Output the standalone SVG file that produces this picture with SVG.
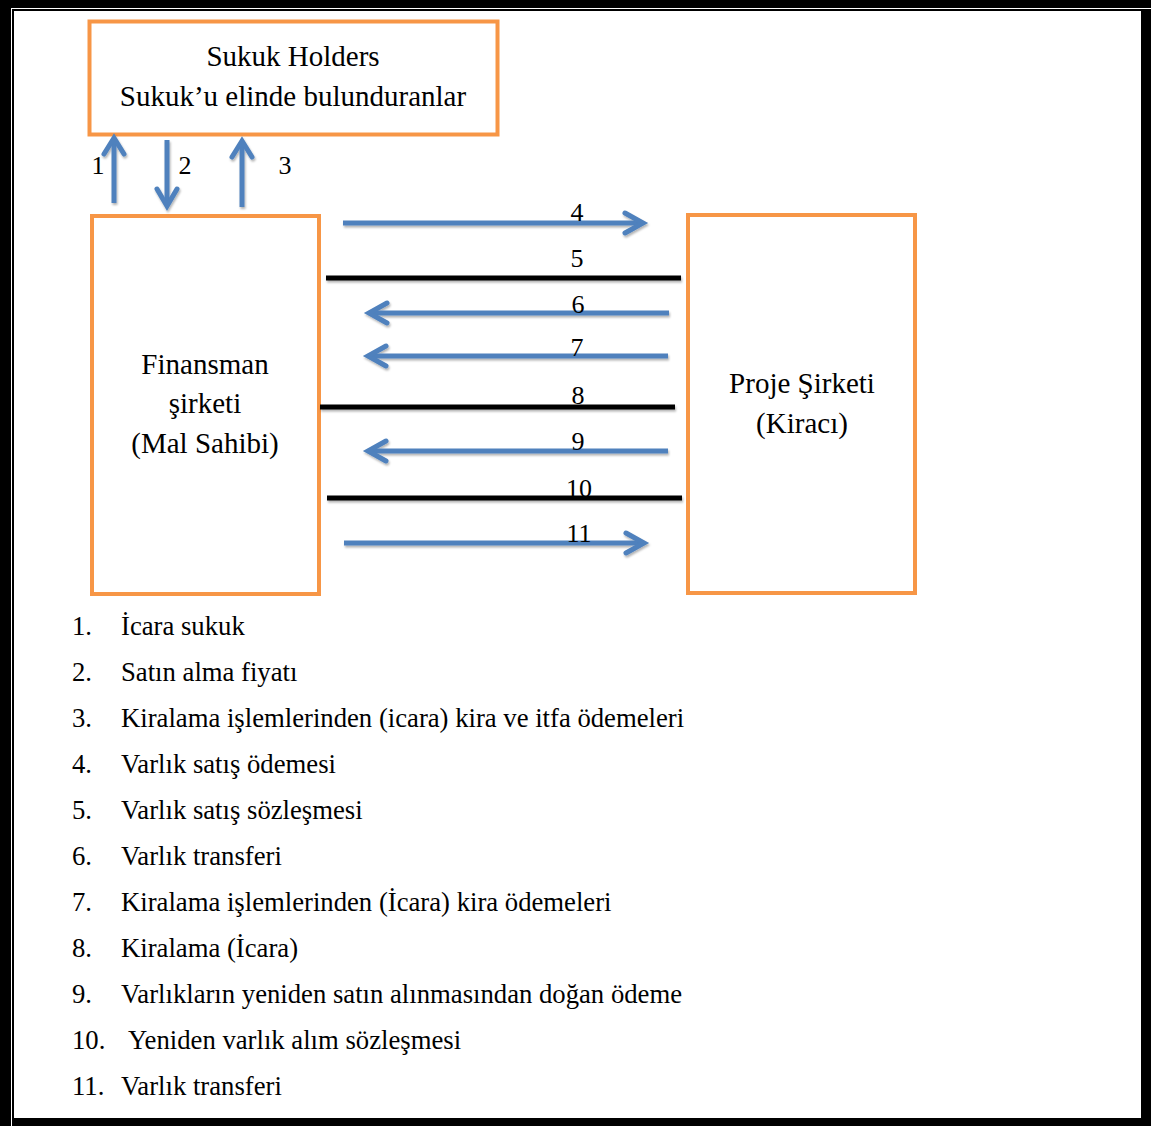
<svg xmlns="http://www.w3.org/2000/svg" width="1151" height="1126" viewBox="0 0 1151 1126">
<defs>
<style>
.t{font-family:"Liberation Serif","Times New Roman",serif;fill:#000}
.big{font-size:29px}
.lbl{font-size:26px}
.lst{font-size:26.7px}
.box{fill:#fff;stroke:#F79646;stroke-width:4}
.arr{fill:none;stroke:#4F81BD;stroke-width:5;stroke-linecap:butt}
.head{fill:none;stroke:#4F81BD;stroke-width:5;stroke-linecap:round;stroke-linejoin:miter}
.blk{stroke:#000;stroke-width:5}
</style>
<filter id="sh" x="-5%" y="-50%" width="110%" height="200%">
<feDropShadow dx="1" dy="2" stdDeviation="1.2" flood-color="#000" flood-opacity="0.3"/>
</filter>
</defs>
<rect width="1151" height="1126" fill="#fff"/>
<g id="frame" fill="#000">
<rect x="0" y="0" width="1151" height="8"/>
<rect x="0" y="0" width="11" height="1126"/>
<rect x="12" y="9" width="1139" height="2"/>
<rect x="12" y="9" width="2" height="1117"/>
<rect x="1141" y="11" width="10" height="1115"/>
<rect x="14" y="1118" width="1137" height="8"/>
</g>
<g id="node-holders">
<rect class="box" x="89.5" y="21.5" width="408" height="113"/>
<text class="t big" x="293" y="66" text-anchor="middle">Sukuk Holders</text>
<text class="t big" x="293" y="106" text-anchor="middle">Sukuk’u elinde bulunduranlar</text>
</g>
<g id="node-finansman">
<rect class="box" x="92" y="216" width="227" height="378"/>
<text class="t big" x="205" y="374" text-anchor="middle">Finansman</text>
<text class="t big" x="205" y="413" text-anchor="middle">şirketi</text>
<text class="t big" x="205" y="453" text-anchor="middle">(Mal Sahibi)</text>
</g>
<g id="node-proje">
<rect class="box" x="688" y="215" width="227" height="378"/>
<text class="t big" x="802" y="393" text-anchor="middle">Proje Şirketi</text>
<text class="t big" x="802" y="433" text-anchor="middle">(Kiracı)</text>
</g>
<g id="connectors" filter="url(#sh)">
<line class="arr" x1="114" y1="203" x2="114" y2="138"/>
<polyline class="head" points="104,154 114,138 124,154"/>
<line class="arr" x1="167" y1="140" x2="167" y2="204"/>
<polyline class="head" points="157,189 167,206 177,189"/>
<line class="arr" x1="242" y1="207" x2="242" y2="141"/>
<polyline class="head" points="232,157 242,141 252,157"/>
<line class="arr" x1="343" y1="223" x2="642" y2="223"/>
<polyline class="head" points="625,213 643,223 625,233"/>
<line class="blk" x1="326" y1="278" x2="681" y2="278"/>
<line class="arr" x1="669" y1="313" x2="371" y2="313"/>
<polyline class="head" points="387,303 369,313 387,323"/>
<line class="arr" x1="668" y1="356" x2="370" y2="356"/>
<polyline class="head" points="386,346 368,356 386,366"/>
<line class="blk" x1="320" y1="407" x2="675" y2="407"/>
<line class="arr" x1="668" y1="451" x2="370" y2="451"/>
<polyline class="head" points="386,441 368,451 386,461"/>
<line class="blk" x1="327" y1="498" x2="682" y2="498"/>
<line class="arr" x1="344" y1="543" x2="643" y2="543"/>
<polyline class="head" points="626,533 644,543 626,553"/>
</g>
<g id="labels" class="t lbl" text-anchor="middle">
<text x="98" y="174">1</text>
<text x="185" y="174">2</text>
<text x="285" y="174">3</text>
<text x="577" y="221">4</text>
<text x="577" y="267">5</text>
<text x="578" y="313">6</text>
<text x="577" y="356">7</text>
<text x="578" y="404">8</text>
<text x="578" y="450">9</text>
<text x="579" y="497">10</text>
<text x="579" y="542">11</text>
</g>
<g id="legend" class="t lst">
<text x="72" y="635">1.</text><text x="121" y="635">İcara sukuk</text>
<text x="72" y="681">2.</text><text x="121" y="681">Satın alma fiyatı</text>
<text x="72" y="727">3.</text><text x="121" y="727">Kiralama işlemlerinden (icara) kira ve itfa ödemeleri</text>
<text x="72" y="773">4.</text><text x="121" y="773">Varlık satış ödemesi</text>
<text x="72" y="819">5.</text><text x="121" y="819">Varlık satış sözleşmesi</text>
<text x="72" y="865">6.</text><text x="121" y="865">Varlık transferi</text>
<text x="72" y="911">7.</text><text x="121" y="911">Kiralama işlemlerinden (İcara) kira ödemeleri</text>
<text x="72" y="957">8.</text><text x="121" y="957">Kiralama (İcara)</text>
<text x="72" y="1003">9.</text><text x="121" y="1003">Varlıkların yeniden satın alınmasından doğan ödeme</text>
<text x="72" y="1049">10.</text><text x="128" y="1049">Yeniden varlık alım sözleşmesi</text>
<text x="72" y="1095">11.</text><text x="121" y="1095">Varlık transferi</text>
</g>
</svg>
